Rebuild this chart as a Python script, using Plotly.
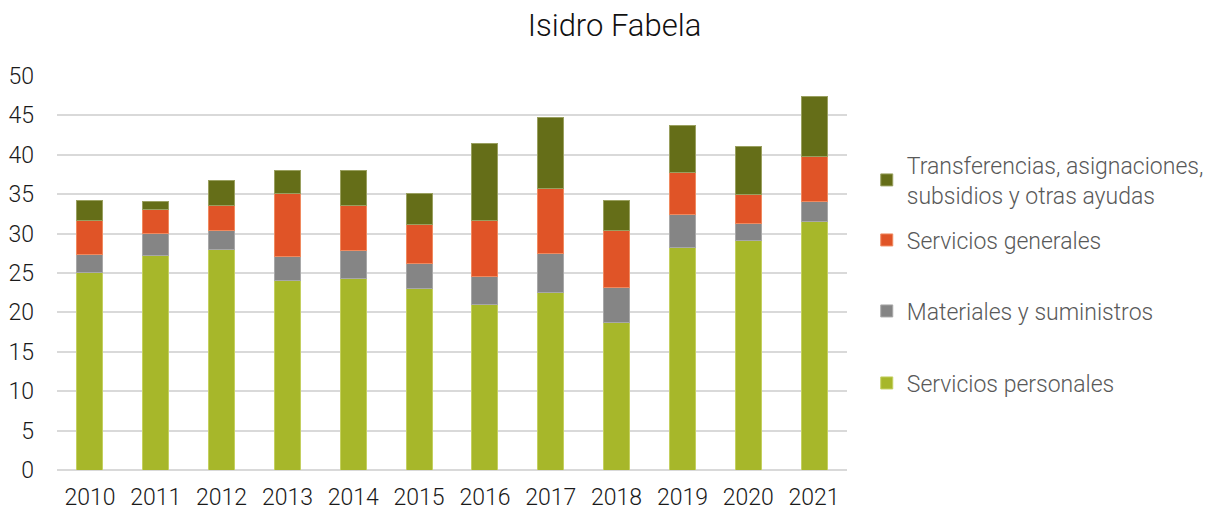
import plotly.graph_objects as go

years = ["2010", "2011", "2012", "2013", "2014", "2015", "2016", "2017", "2018", "2019", "2020", "2021"]
servicios_personales = [25.1, 27.2, 28.0, 24.1, 24.3, 23.0, 21.0, 22.5, 18.7, 28.3, 29.1, 31.5]
materiales_suministros = [2.2, 2.8, 2.4, 3.0, 3.6, 3.2, 3.5, 5.0, 4.5, 4.1, 2.2, 2.6]
servicios_generales = [4.3, 3.1, 3.2, 8.0, 5.7, 4.9, 7.2, 8.2, 7.2, 5.4, 3.7, 5.7]
transferencias = [2.6, 1.0, 3.2, 2.9, 4.4, 4.0, 9.7, 9.0, 3.8, 5.9, 6.0, 7.6]

y_ticks = [0, 5, 10, 15, 20, 25, 30, 35, 40, 45, 50]

FONT = "Roboto"

series = [
    ("Servicios personales", servicios_personales, "#A7B72A", "#C4D060", "legend4"),
    ("Materiales y suministros", materiales_suministros, "#858585", "#A8A8A8", "legend3"),
    ("Servicios generales", servicios_generales, "#E05427", "#F08A60", "legend2"),
    ("Transferencias, asignaciones,<br>subsidios y otras ayudas", transferencias, "#656E18", "#9AA060", "legend"),
]

fig = go.Figure()
for name, vals, col, lcol, leg in series:
    fig.add_trace(go.Bar(
        x=years, y=vals, name=name, showlegend=True,
        marker=dict(color=col, line=dict(color=lcol, width=1)),
        legend=leg,
    ))

# plot area spans page pixels y 76..470 (the page body adds an 8px offset)
def pix_to_paper_y(p):
    return (470 - p) / 394.0

legend_common = dict(
    x=1.025, xanchor="left", yanchor="middle",
    font=dict(family=FONT, size=23, color="#595959", weight=300),
    bgcolor="rgba(0,0,0,0)", itemwidth=30, visible=True,
)

fig.update_layout(
    barmode="stack",
    bargap=0.605,
    showlegend=True,
    width=1213, height=512,
    margin=dict(l=49, r=374, t=68, b=50, autoexpand=False),
    paper_bgcolor="white", plot_bgcolor="white",
    font=dict(family=FONT, size=23, color="#222222", weight=300),
    title=dict(text="Isidro Fabela", x=0.5, xanchor="center", y=0.966, yanchor="middle",
               font=dict(family=FONT, size=31, color="#111111", weight=300)),
    legend=dict(y=pix_to_paper_y(180), **legend_common),
    legend2=dict(y=pix_to_paper_y(240), **legend_common),
    legend3=dict(y=pix_to_paper_y(311), **legend_common),
    legend4=dict(y=pix_to_paper_y(383), **legend_common),
    xaxis=dict(showgrid=False, showline=False, ticks="", automargin=False,
               tickfont=dict(size=23, color="#1a1a1a"), ticklabelstandoff=11),
    yaxis=dict(range=[0, 50], tickvals=y_ticks, showgrid=True, gridcolor="#D9D9D9", gridwidth=2,
               zeroline=True, zerolinecolor="#D9D9D9", zerolinewidth=2, automargin=False,
               tickfont=dict(size=23, color="#1a1a1a"), ticklabelstandoff=22),
)

fig.write_html("out.html")
